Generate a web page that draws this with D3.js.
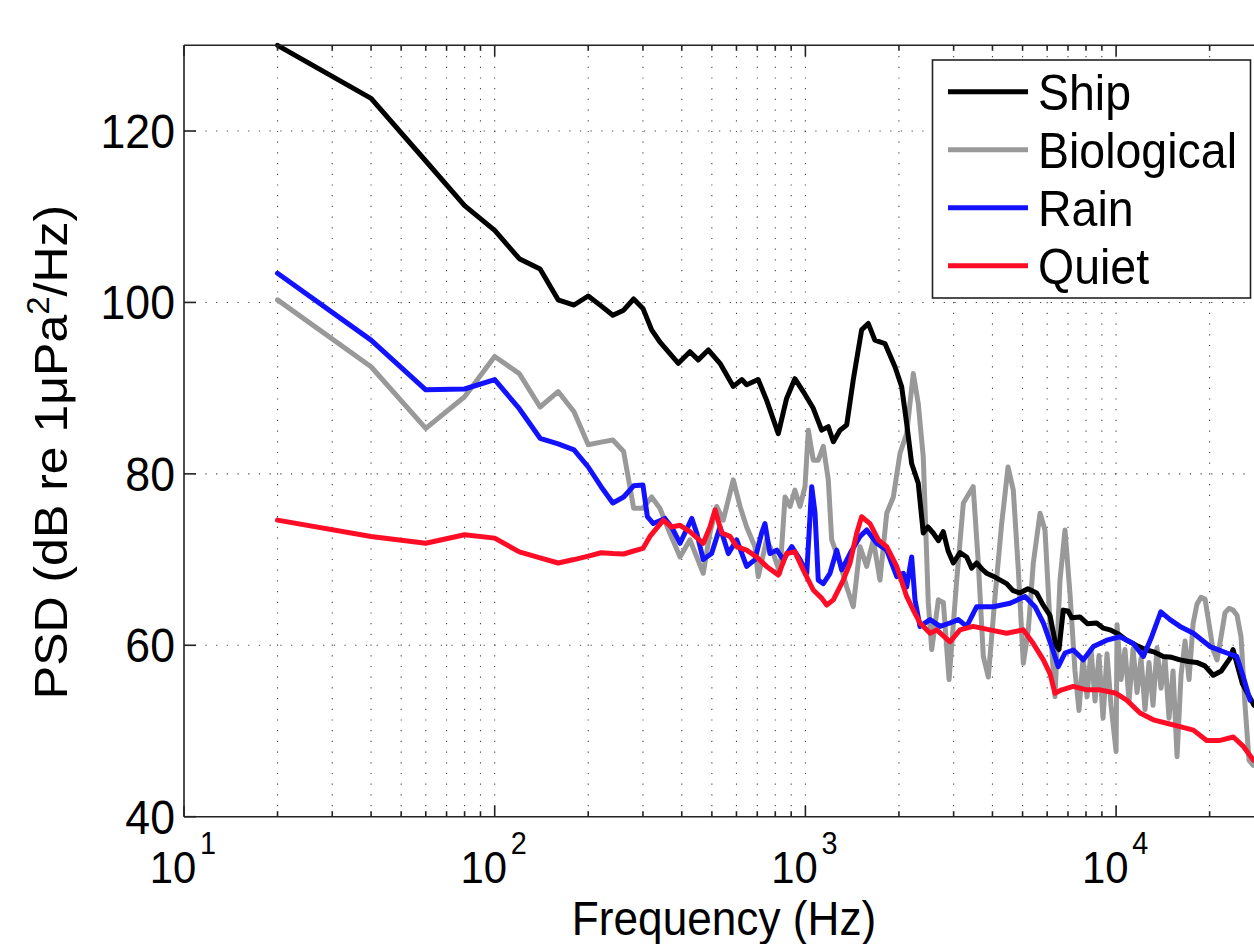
<!DOCTYPE html>
<html><head><meta charset="utf-8">
<script src="https://cdn.jsdelivr.net/npm/d3@7"></script>
<style>
body{margin:0;background:#fff;}
text{font-family:"Liberation Sans",Arial,Helvetica,sans-serif;fill:#000;}
</style></head>
<body><svg id="chart" width="1254" height="944"></svg>
<script>
// ---------- DATA ----------
const seriesNames = ["Ship", "Biological", "Rain", "Quiet"];

const shipFreq = [20,40,60,80,100,120,140,160,180,200,220,240,260,280,300,320,340,390,425,452,487,531,586,624,647,705,750,818,870,925,984,1060,1128,1185,1230,1292,1358,1426,1517,1593,1673,1803,1942,2040,2118,2198,2308,2395,2480,2578,2680,2778,2880,2993,3145,3305,3430,3557,3700,3833,4100,4443,4650,4903,5200,5549,5800,6124,6400,6550,6760,7000,7200,7650,8100,8655,9100,9555,10200,10810,11600,12540,13300,14190,15100,16060,17100,18170,19300,20550,21800,23280,23790,25500,27800];
const shipPSD  = [130,123.8,116.5,111.3,108.4,105.1,103.9,100.3,99.7,100.75,99.6,98.5,99.1,100.4,99.3,96.8,95.4,92.9,94.25,93.3,94.45,92.9,90.2,91.0,90.4,91.0,88.6,84.7,88.8,91.1,89.6,87.65,85.1,85.5,83.75,85.1,85.7,91.0,96.8,97.55,95.6,95.2,92.5,90.2,85.9,81.2,78.9,73.1,73.8,73.1,72.2,73.25,71.0,69.6,70.8,70.3,69.0,69.6,68.9,68.4,67.9,67.2,66.4,66.1,66.6,66.1,64.8,63.5,60.0,59.5,64.1,64.0,63.2,63.3,62.5,62.6,62.0,61.8,61.3,60.6,60.0,59.45,59.2,58.7,58.6,58.3,58.1,58.0,57.6,56.5,57.0,58.5,59.5,55.5,53];

const bioFreq = [20,40,60,80,100,120,140,160,180,200,220,240,260,280,300,320,340,366,395,425,469,493,518,544,586,616,647,688,705,750,788,828,860,892,925,961,997,1022,1060,1100,1142,1185,1215,1292,1358,1426,1499,1575,1654,1738,1827,1919,2016,2118,2225,2308,2395,2486,2550,2679,2780,2900,3069,3224,3467,3602,3738,3879,4077,4283,4490,4668,4845,5028,5218,5414,5690,5904,6127,6358,6598,6847,7106,7374,7597,7826,8061,8306,8555,8810,9077,9350,9630,10000,10070,10370,10680,11010,11340,11680,12030,12390,12760,13150,13540,13950,14370,14800,15250,15710,16180,16670,17170,17690,18210,18760,19330,19910,20510,21130,21770,22420,23090,23790,24500,25240,26000,26780,27590];
const bioPSD  = [100.3,92.5,85.3,89.0,93.7,91.7,87.8,89.6,87.25,83.4,83.7,83.95,82.6,76.0,76.0,77.3,76.0,73.1,70.3,72.3,68.4,73.1,76.2,74.6,79.3,76.2,73.8,71.5,68.0,72.3,70.7,68.4,77.3,76.2,78.1,76.2,78.5,85.1,81.6,81.6,83.2,79.3,72.3,69.6,66.8,64.5,71.5,69.2,72.3,67.6,75.4,77.3,82.4,84.7,91.7,88.2,82.0,65,59.5,65.3,65,56,67.6,76.6,78.5,69.6,58.7,56.3,65.7,74.2,80.8,78.1,68.8,57.9,61.8,69.6,75.4,73.45,62.6,54.0,67.6,73.45,66,57,52.4,58.5,54,59.5,53.5,58.8,51.5,59,53,47.6,62.4,56,59.5,53.5,59.6,54.5,58.5,52.5,58,53,59.7,55,58.5,51.5,57,47.0,56.5,60.5,56,62.5,64.8,65.6,65.4,62.5,59.5,58.3,61,63.8,64.3,64.1,63.5,61,53,46.6,46];

const rainFreq = [20,40,60,80,100,120,140,160,180,200,220,240,260,280,300,310,324,353,371,395,431,447,469,499,531,565,601,647,688,723,741,769,809,849,904,961,1010,1048,1074,1100,1142,1200,1261,1309,1392,1499,1575,1696,1827,1968,2066,2118,2198,2253,2338,2519,2713,2920,3106,3305,3559,4025,4556,5093,5483,5833,6205,6513,6847,7281,7845,8451,9330,10295,11360,12235,13020,13930,14913,16060,17730,20060,22710,24450,25680,26980];
const rainPSD  = [103.4,95.6,89.8,89.9,91.0,87.6,84.15,83.5,82.8,80.8,78.5,76.6,77.3,78.6,78.7,75.0,74.2,74.8,73.8,71.9,74.8,73.1,70.0,70.7,73.8,70.7,72.3,69.2,70.0,73.1,74.2,70.7,71.1,70.0,71.5,70.0,68.4,78.5,75.4,67.6,67.2,68.4,71.1,68.8,70.7,72.7,73.45,71.9,71.1,68.0,68.4,66.8,70.3,65.3,62.2,63.0,62.2,62.6,63.0,62.2,64.5,64.5,64.9,65.7,64.5,62.6,59.85,57.5,59.1,59.45,58.3,59.85,60.6,61.0,60.2,58.7,61.0,63.9,63.0,62.2,61.4,59.85,59.1,58.7,56.3,53.6];

const quietFreq = [20,40,60,80,100,120,140,160,180,200,220,240,260,280,300,316,349,371,395,425,469,493,512,538,572,601,647,697,750,818,870,925,984,1060,1128,1171,1230,1324,1392,1463,1517,1614,1717,1827,1968,2118,2225,2338,2519,2647,2920,3145,3467,3928,4443,5028,5414,5833,6127,6358,6683,7281,8043,8875,10000,10820,11940,13180,14553,16060,17730,19570,21600,23840,25680,27650];
const quietPSD  = [74.6,72.7,71.9,72.9,72.5,70.9,70.2,69.6,70.0,70.4,70.8,70.7,70.65,71.0,71.3,72.7,74.6,73.8,74.0,73.25,71.9,73.8,75.8,73.1,72.7,71.5,71.1,70.3,69.2,68.2,70.7,70.9,68.8,66.45,65.5,64.7,65.3,67.6,69.6,73.1,75.0,74.2,72.3,71.5,69.2,65.7,64.1,62.6,61.4,61.8,60.4,61.8,62.2,61.8,61.4,61.8,60.2,58.3,56.7,54.4,54.8,55.2,54.8,54.8,54.4,53.6,52.1,51.3,50.9,50.5,50.1,48.9,48.9,49.3,48.2,46.6];

const yTicks = [40, 60, 80, 100, 120];
const xMajorExponents = [1, 2, 3, 4];
const xLabel = "Frequency (Hz)";
const yLabelParts = ["PSD (dB re 1\u03BCPa", "2", "/Hz)"];

// ---------- LAYOUT ----------
const svg = d3.select("#chart");
const pLeft = 184, pTop = 45.3, pBottom = 816.7, decadePx = 310.7;
const x = d3.scaleLog().domain([10, 30000]).range([pLeft, pLeft + decadePx * Math.log10(3000)]);
const y = d3.scaleLinear().domain([40, 130]).range([pBottom, pTop]);
const pRight = x.range()[1];
const sx = 0.93; // horizontal glyph compression seen in the reference

const colors = {Ship:"#000000", Biological:"#999999", Rain:"#1212ff", Quiet:"#ff0d26"};

// grid
const minorVals = [];
for (let e = 1; e <= 4; e++) for (let k = 1; k <= 9; k++) {
  const v = k * Math.pow(10, e);
  if (v > 10 && v <= 30000) minorVals.push(v);
}
const grid = svg.append("g");
grid.selectAll("line.vg").data(minorVals).join("line")
  .attr("x1", d => x(d)).attr("x2", d => x(d)).attr("y1", pTop).attr("y2", pBottom)
  .attr("stroke", "#444").attr("stroke-width", 1.1).attr("stroke-dasharray", "1.2,9.5");
grid.selectAll("line.hg").data(yTicks.filter(t => t > 40)).join("line")
  .attr("x1", pLeft).attr("x2", pRight).attr("y1", d => y(d)).attr("y2", d => y(d))
  .attr("stroke", "#444").attr("stroke-width", 1.1).attr("stroke-dasharray", "1.2,9.5");

// clip
svg.append("clipPath").attr("id", "clip").append("rect")
  .attr("x", pLeft).attr("y", pTop - 3).attr("width", pRight - pLeft).attr("height", pBottom - pTop + 3);

const line = d3.line().x(d => x(d[0])).y(d => y(d[1]));
const series = [
  {name:"Biological", f:bioFreq, v:bioPSD},
  {name:"Ship", f:shipFreq, v:shipPSD},
  {name:"Rain", f:rainFreq, v:rainPSD},
  {name:"Quiet", f:quietFreq, v:quietPSD}
];
const lines = svg.append("g").attr("clip-path", "url(#clip)");
lines.selectAll("path").data(series).join("path")
  .attr("d", s => line(s.f.map((f, i) => [f, s.v[i]])))
  .attr("fill", "none").attr("stroke", s => colors[s.name])
  .attr("stroke-width", 5).attr("stroke-linejoin", "round").attr("stroke-linecap", "round");

// axes box
const axis = svg.append("g").attr("stroke", "#222").attr("stroke-width", 1.6);
axis.append("line").attr("x1", pLeft).attr("x2", pLeft).attr("y1", pTop).attr("y2", pBottom);
axis.append("line").attr("x1", pLeft).attr("x2", pRight + 10).attr("y1", pBottom).attr("y2", pBottom);
axis.append("line").attr("x1", pLeft).attr("x2", pRight + 10).attr("y1", pTop).attr("y2", pTop);

// x ticks (bottom & top, inward)
const majorVals = xMajorExponents.map(e => Math.pow(10, e));
const allX = minorVals.filter(v => !majorVals.includes(v));
axis.selectAll("line.xminb").data(allX).join("line")
  .attr("x1", d => x(d)).attr("x2", d => x(d)).attr("y1", pBottom).attr("y2", pBottom - 5.5);
axis.selectAll("line.xmint").data(allX).join("line")
  .attr("x1", d => x(d)).attr("x2", d => x(d)).attr("y1", pTop).attr("y2", pTop + 5.5);
axis.selectAll("line.xmajb").data(majorVals).join("line")
  .attr("x1", d => x(d)).attr("x2", d => x(d)).attr("y1", pBottom).attr("y2", pBottom - 11);
axis.selectAll("line.xmajt").data(majorVals).join("line")
  .attr("x1", d => x(d)).attr("x2", d => x(d)).attr("y1", pTop).attr("y2", pTop + 11);
axis.selectAll("line.yt").data(yTicks).join("line")
  .attr("x1", pLeft).attr("x2", pLeft + 12).attr("y1", d => y(d)).attr("y2", d => y(d));

// tick labels
const labels = svg.append("g");
labels.selectAll("text.yl").data(yTicks).join("text")
  .attr("transform", d => `translate(175,${y(d) + 17}) scale(${sx},1)`)
  .attr("text-anchor", "end").attr("font-size", 48).text(d => d);

const xl = labels.selectAll("text.xl").data(xMajorExponents).join("text")
  .attr("transform", e => `translate(${x(Math.pow(10, e)) - 1},883) scale(${sx},1)`)
  .attr("text-anchor", "middle").attr("font-size", 45);
xl.append("tspan").text("10");
xl.append("tspan").attr("dx", 4).attr("dy", -29).attr("font-size", 31).text(e => e);

// axis titles
labels.append("text")
  .attr("transform", `translate(724,935) scale(${sx},1)`)
  .attr("text-anchor", "middle").attr("font-size", 47.5).text(xLabel);
const yl = labels.append("text")
  .attr("transform", `translate(67,452) scale(${sx},1) rotate(-90)`)
  .attr("text-anchor", "middle").attr("font-size", 50);
yl.append("tspan").text(yLabelParts[0]);
yl.append("tspan").attr("dy", -19).attr("font-size", 33).text(yLabelParts[1]);
yl.append("tspan").attr("dy", 19).text(yLabelParts[2]);

// legend
const lg = svg.append("g");
lg.append("rect").attr("x", 932.5).attr("y", 60).attr("width", 318).attr("height", 238)
  .attr("fill", "#fff").attr("stroke", "#222").attr("stroke-width", 1.6);
const rowY = d3.scalePoint().domain(seriesNames).range([91.7, 265.7]);
const items = lg.selectAll("g.it").data(seriesNames).join("g");
items.append("line").attr("x1", 948).attr("x2", 1028)
  .attr("y1", d => rowY(d)).attr("y2", d => rowY(d))
  .attr("stroke", d => colors[d]).attr("stroke-width", 5);
items.append("text")
  .attr("transform", d => `translate(1038,${rowY(d) + 18}) scale(${sx},1)`)
  .attr("font-size", 50).text(d => d);
</script></body></html>
